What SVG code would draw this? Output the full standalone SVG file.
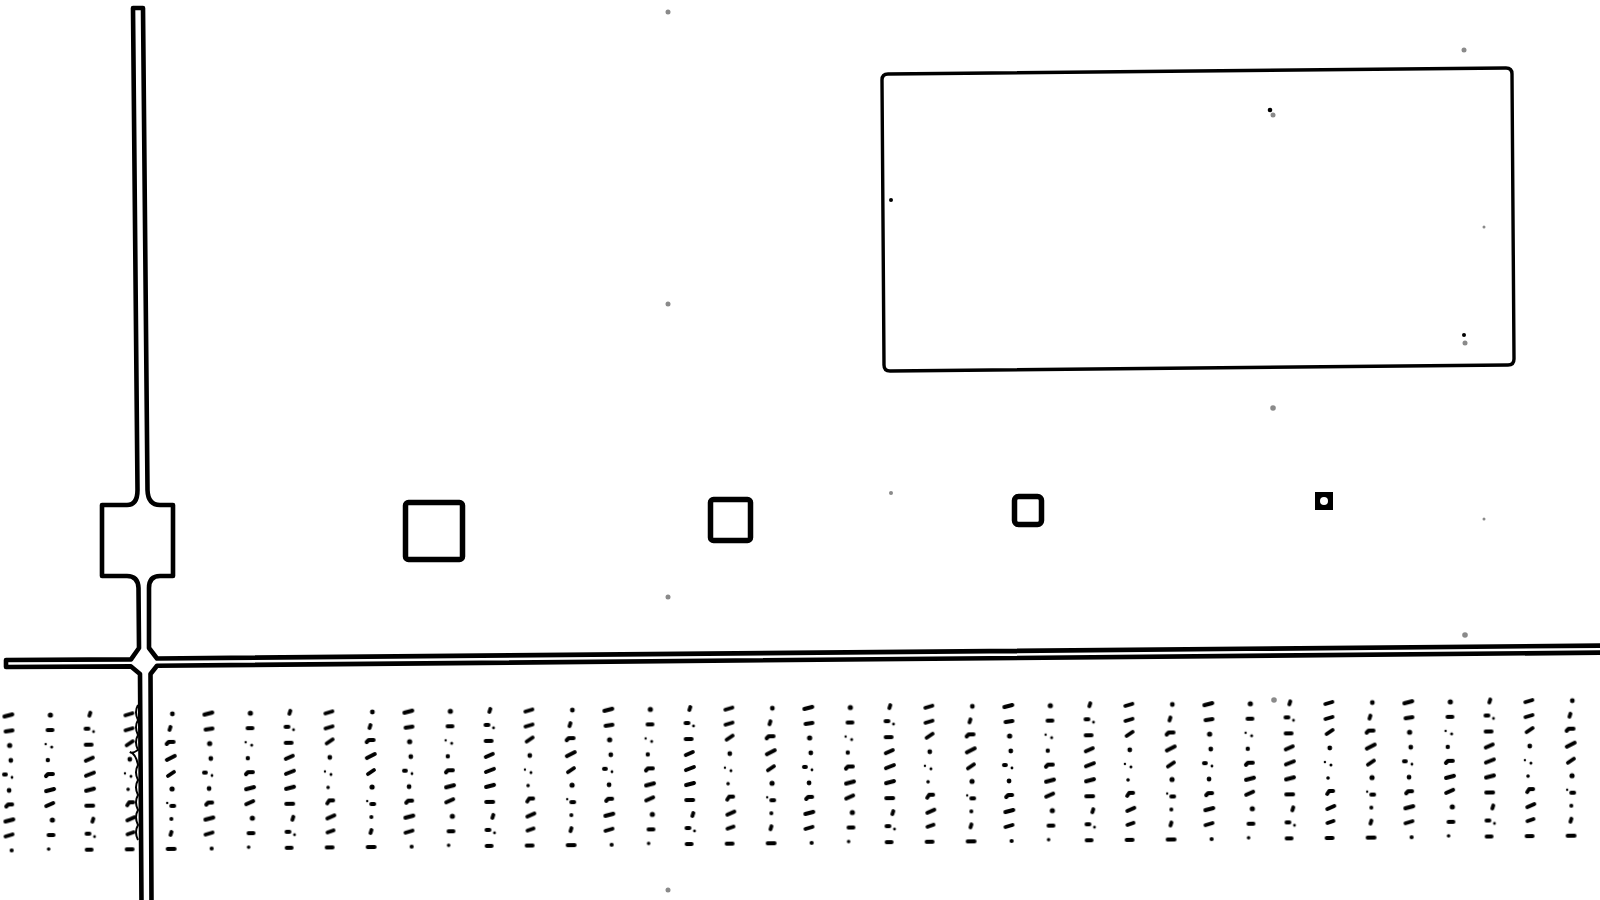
<svg xmlns="http://www.w3.org/2000/svg" width="1600" height="900" viewBox="0 0 1600 900">
<style>
.ln{fill:#fff;stroke:#000;stroke-width:4.6;stroke-linejoin:round}
.sq{fill:#fff;stroke:#000;stroke-width:5.5}
.m{fill:none;stroke:#000;stroke-width:3.9;stroke-linecap:round;stroke-linejoin:round}
.d{fill:#000}
.g{fill:#8a8a8a}
</style>
<defs>
<pattern id="field" patternUnits="userSpaceOnUse" x="-10" y="700" width="200" height="150">
<path class="m" d="M15,9 l8,-2 M16,24 l7,-1 M14,67 h2 M16,99 l2,-2 h4 M15,114 l8,-2 M15,129 l7,-2"/>
<circle class="d" cx="20" cy="38" r="2.6"/><circle class="d" cx="21" cy="53" r="2.4"/><circle class="d" cx="22" cy="70" r="1.4"/><circle class="d" cx="19" cy="83" r="2.4"/><circle class="d" cx="21" cy="143" r="2.1"/>
<path class="m" d="M58,23 h5 M56,69 l2,-2 h5 M56,84 l8,-2 M56,99 l7,-3 M58,128 h5"/>
<circle class="d" cx="61" cy="8" r="2.6"/><circle class="d" cx="56" cy="37" r="1.2"/><circle class="d" cx="62" cy="40" r="1.5"/><circle class="d" cx="58" cy="53" r="2.2"/><circle class="d" cx="62" cy="113" r="2.6"/><circle class="d" cx="58" cy="142" r="1.8"/>
<path class="m" d="M101,6 l-1,3 M96,22 h3 M96,38 h6 M96,54 l7,-3 M96,69 l8,-3 M96,84 l8,-2 M96,99 h7 M103,112 l-1,3 M96,127 h3 M96,143 h5"/>
<circle class="d" cx="104" cy="25" r="1.4"/><circle class="d" cx="104" cy="130" r="1.4"/>
<path class="m" d="M136,9 l7,-2 M136,24 l7,-2 M137,39 l6,-4 M137,99 l2,-3 h4 M137,114 l7,-3 M137,128 l6,-2 M136,143 h6"/>
<circle class="d" cx="140" cy="53" r="2.4"/><circle class="d" cx="135" cy="67" r="1.2"/><circle class="d" cx="141" cy="70" r="1.5"/><circle class="d" cx="138" cy="83" r="1.8"/>
<path class="m" d="M180,24 l1,-3 M177,38 l2,-2 h5 M177,54 l8,-4 M178,70 l6,-4 M181,100 h3 M180,129 l1,-3 M177,143 h7"/>
<circle class="d" cx="183" cy="8" r="2.4"/><circle class="d" cx="182" cy="83" r="2.6"/><circle class="d" cx="177" cy="97" r="1.2"/><circle class="d" cx="181" cy="113" r="2"/>
</pattern>
</defs>
<rect width="1600" height="900" fill="#fff"/>
<g id="field-marks" transform="rotate(-0.54 800 775)">
<rect x="0" y="700" width="1595" height="150" fill="url(#field)"/>
</g>
<g id="tubes">
<path class="ln" d="M133,8 L143,8 L147.5,490 Q148,505 160,505 L173,505 L173,576 L160,576 Q149,576 149,588 L149,648 L157,658.5 L1605,645.6 L1605,652.6 L157,665.8 L150.5,674 L151.5,905 L141.5,905 L140,674 L131,666.4 L6,667 L6,660 L131,659.4 L139,648 L138.5,588 Q138,576 127,576 L102,576 L102,505 L127,505 Q137.5,505 137.5,490 Z"/>
<path fill="none" stroke="#000" stroke-width="2" d="M138,705 q-4,7 0,15 q-4,7 0,15 q-4,7 0,15 q-6,4 -8,2 q6,2 8,13 q-4,7 0,15 q-4,7 0,15 q-4,7 0,15 q-4,7 0,15 q-4,7 0,15"/>
</g>
<g id="panel">
<path fill="none" stroke="#000" stroke-width="3.4" d="M888,74 L1506,68 Q1512,68 1512,74 L1514,359 Q1514,365 1508,365 L890,371 Q884,371 884,365 L882,80 Q882,74 888,74 Z"/>
</g>
<g id="sq2"><rect class="sq" x="405.5" y="502.5" width="57" height="57" rx="3"/></g>
<g id="sq3"><rect class="sq" x="710.5" y="499.5" width="40" height="41" rx="3"/></g>
<g id="sq4"><rect class="sq" x="1014.5" y="496.5" width="27" height="28" rx="4"/></g>
<g id="sq5"><rect x="1315" y="492" width="18" height="18" fill="#000"/><circle cx="1324" cy="501" r="4" fill="#fff"/></g>
<g id="dots">
<circle class="g" cx="668" cy="12" r="2.5"/>
<circle class="g" cx="668" cy="304" r="2.5"/>
<circle class="g" cx="668" cy="597" r="2.5"/>
<circle class="g" cx="668" cy="890" r="2.5"/>
<circle class="g" cx="1464" cy="50" r="2.5"/>
<circle class="d" cx="1270" cy="110" r="2.3"/><circle class="g" cx="1273" cy="115" r="2.5"/>
<circle class="d" cx="891" cy="200" r="2"/>
<circle class="g" cx="1484" cy="227" r="1.5"/>
<circle class="d" cx="1464" cy="335" r="2"/><circle class="g" cx="1465" cy="343" r="2.5"/>
<circle class="g" cx="1273" cy="408" r="2.8"/>
<circle class="g" cx="891" cy="493" r="2"/>
<circle class="g" cx="1484" cy="519" r="1.5"/>
<circle class="g" cx="1465" cy="635" r="2.8"/>
<circle class="g" cx="1274" cy="700" r="2.8"/>
</g>
</svg>
